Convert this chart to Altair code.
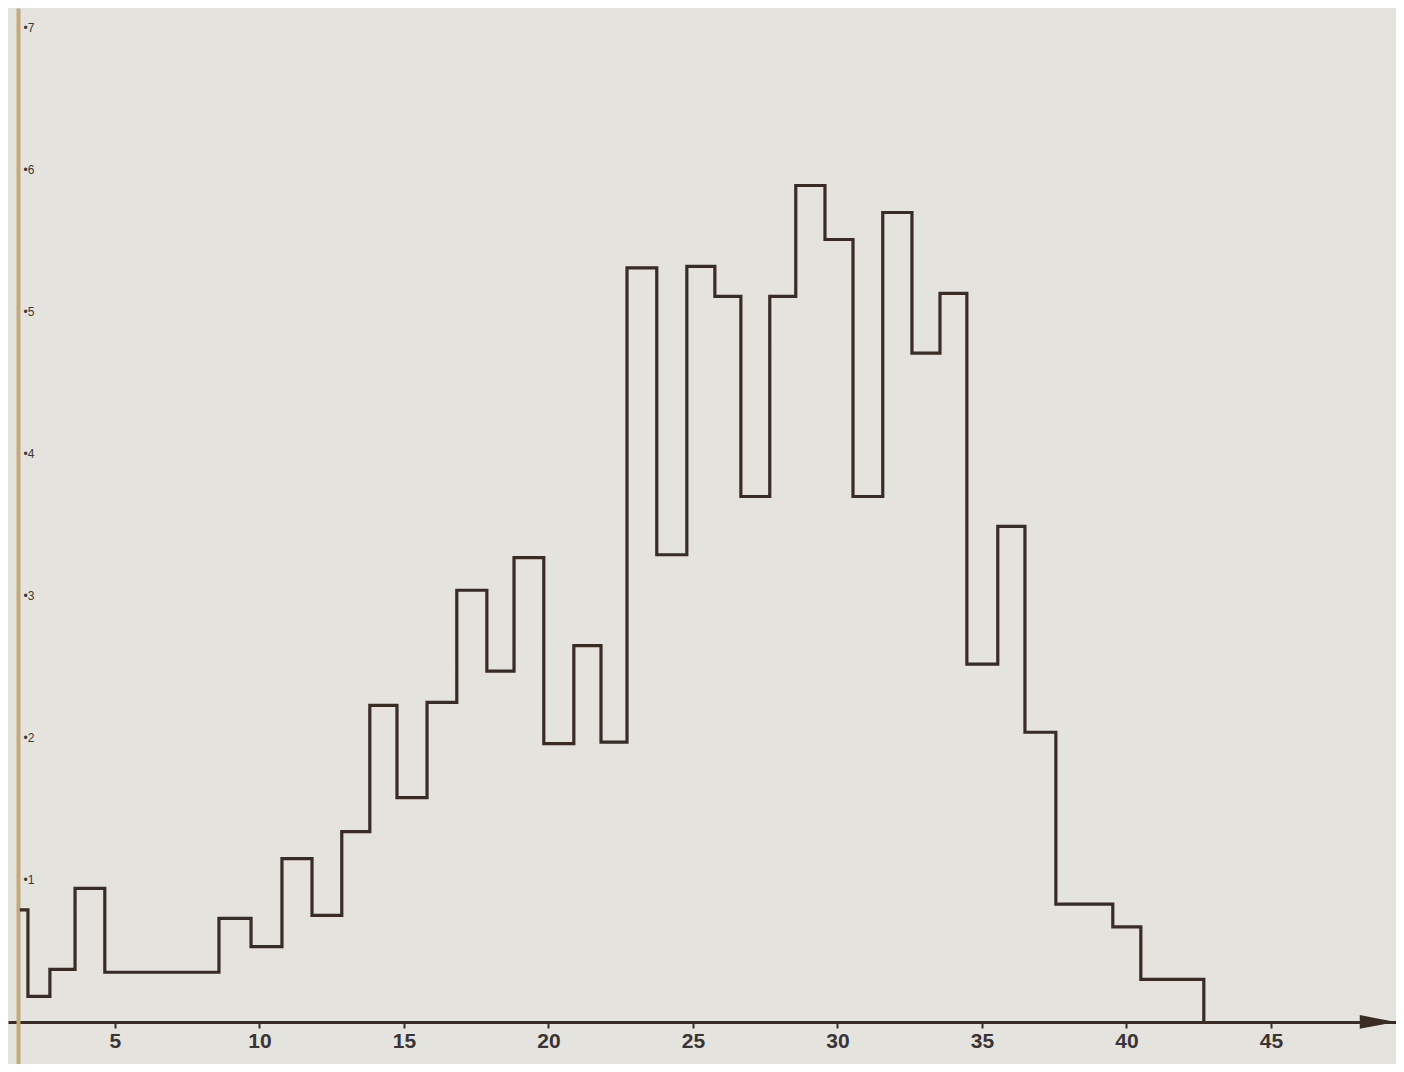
import altair as alt
import pandas as pd

# Histogram bin edges (x units) and bin heights (y units)
bin_edges = [1.71, 1.99, 2.75, 3.62, 4.65, 8.60, 9.71, 10.78, 11.82, 12.85,
             13.82, 14.76, 15.80, 16.83, 17.87, 18.81, 19.84, 20.88, 21.82, 22.72,
             23.75, 24.79, 25.76, 26.66, 27.66, 28.56, 29.57, 30.54, 31.57, 32.58,
             33.55, 34.48, 35.55, 36.49, 37.56, 39.53, 40.50, 42.68]
counts = [0.79, 0.18, 0.37, 0.94, 0.35, 0.73, 0.53, 1.15, 0.75, 1.34,
          2.23, 1.58, 2.25, 3.04, 2.47, 3.27, 1.96, 2.65, 1.97, 5.31,
          3.29, 5.32, 5.11, 3.70, 5.11, 5.89, 5.51, 3.70, 5.70, 4.71,
          5.13, 2.52, 3.49, 2.04, 0.83, 0.67, 0.30]

x_ticks = [5, 10, 15, 20, 25, 30, 35, 40, 45]
y_ticks = [1, 2, 3, 4, 5, 6, 7]
arrow_x = [48.7]

INK = "#3a2b25"
PAPER = "#e5e3de"

df = pd.DataFrame({"x": bin_edges, "y": counts + [0.0]})
arrow_df = pd.DataFrame({"x": arrow_x, "y": [0.0]})

xscale = alt.Scale(domain=[1.30, 49.33], nice=False, zero=False)
yscale = alt.Scale(domain=[-0.296, 7.14], nice=False, zero=False)

line = alt.Chart(df).mark_line(
    interpolate="step-after", color=INK, strokeWidth=3.2, strokeJoin="miter"
).encode(
    x=alt.X("x:Q", scale=xscale, title=None,
            axis=alt.Axis(values=x_ticks, orient="bottom", offset=-42,
                          domainColor=INK, domainWidth=3,
                          tickColor=INK, tickWidth=2, tickSize=6,
                          labelColor="#3a3434", labelFontSize=21, labelFontWeight="bold",
                          labelFont="Liberation Sans",
                          labelPadding=2, grid=False)),
    y=alt.Y("y:Q", scale=yscale, title=None,
            axis=alt.Axis(values=y_ticks, orient="left", offset=-10,
                          domainColor="#c4a97c", domainWidth=4,
                          ticks=False, tickSize=0,
                          labelExpr="'•' + datum.value",
                          labelAlign="left", labelPadding=-5,
                          labelColor="#3a3636", labelFontSize=12,
                          labelFont="Liberation Sans", grid=False)),
)

arrow = alt.Chart(arrow_df).mark_point(
    shape="M-1,-0.38L1,0L-1,0.38Z", filled=True, size=1300, color=INK, opacity=1
).encode(x=alt.X("x:Q", scale=xscale), y=alt.Y("y:Q", scale=yscale))

chart = (line + arrow).properties(
    width=1388, height=1056, background=PAPER,
    autosize=alt.AutoSizeParams(type="none"), padding=0
).configure_view(stroke=None, fill=PAPER)

chart.save("out.html", embed_options={"renderer": "svg", "actions": False})
